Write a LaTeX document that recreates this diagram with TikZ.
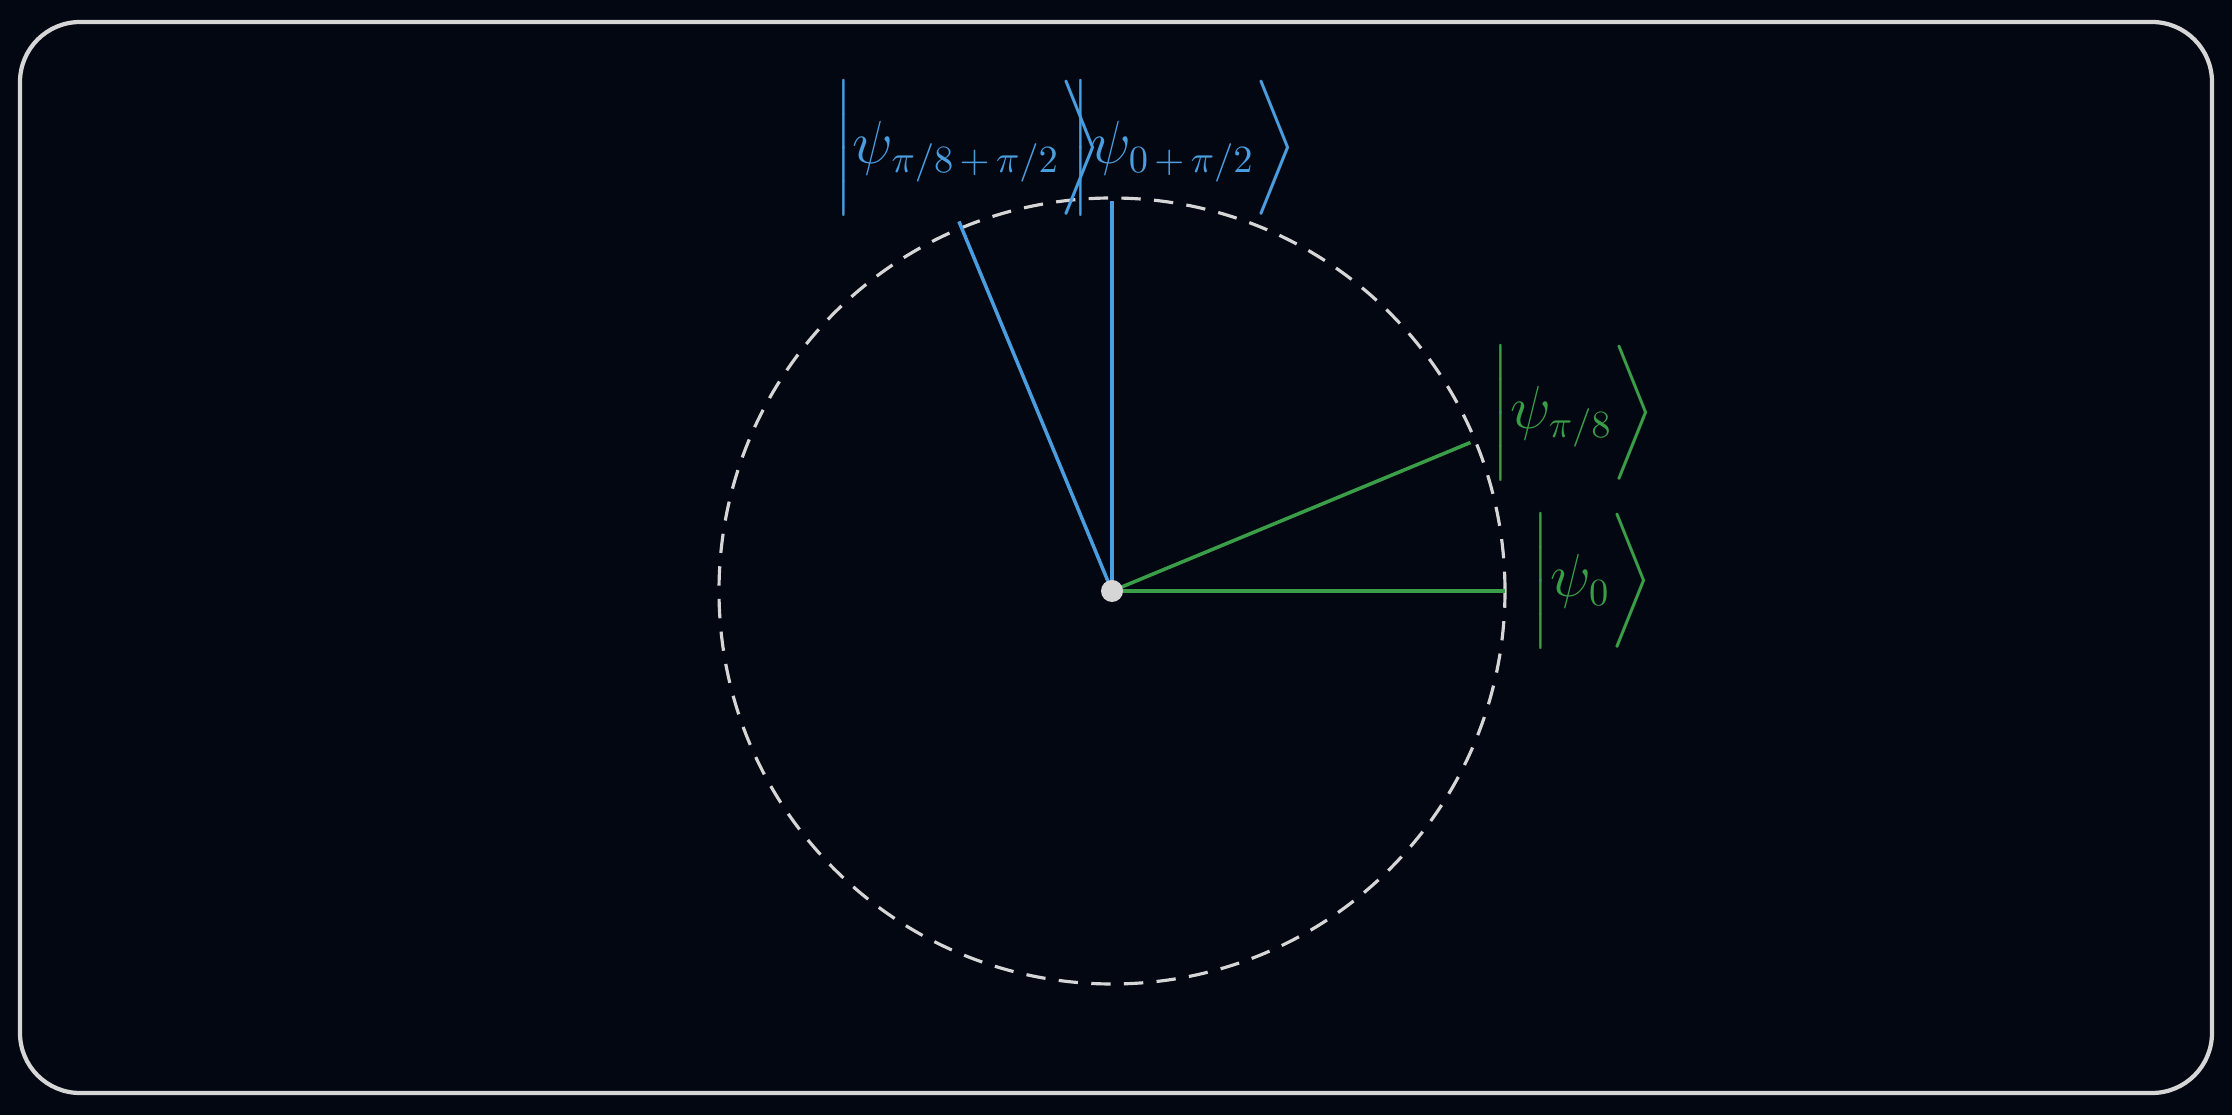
\documentclass[tikz,border=0pt]{standalone}
\usepackage{amsmath,amssymb}
\usepackage{tikz}
\usetikzlibrary{calc}
\definecolor{bgnavy}{RGB}{3,7,18}
\definecolor{chalk}{RGB}{214,214,214}
\definecolor{ketblue}{RGB}{74,158,224}
\definecolor{ketgreen}{RGB}{58,158,72}
\newcommand{\ketpsi}[1]{$\bigg|\psi_{#1}\bigg\rangle$}
\tikzset{
  ray/.style={line width=1pt},
  ketlabel/.style={font=\fontsize{16}{19}\selectfont, inner sep=0pt},
}

\begin{document}
\begin{tikzpicture}[x=0.01cm, y=0.01cm]
        % background and frame
        \fill[bgnavy] (0,0) rectangle (2232,1115);
        \useasboundingbox (0,0) rectangle (2232,1115);
        \draw[chalk, line width=1.2pt, rounded corners=0.6cm] (20,22) rectangle (2212,1093);
        % circle
        \coordinate (O) at (1112,524);
        \draw[chalk, line width=0.9pt, dash pattern=on 5.5pt off 3.8pt] (O) circle (393);
        % ends of the rays
        \coordinate (e0) at ($(O)+(0:393)$);
        \coordinate (e1) at ($(O)+(22.5:388)$);
        \coordinate (e2) at ($(O)+(90:390)$);
        \coordinate (e3) at ($(O)+(112.5:400)$);
        % rays
        \draw[ketgreen, ray] (O) -- (e0);
        \draw[ketgreen, ray] (O) -- (e1);
        \draw[ketblue, ray] (O) -- (e2);
        \draw[ketblue, ray] (O) -- (e3);
        \node[circle, fill=chalk, minimum size=0.22cm, inner sep=0pt] (dot) at (O) {};
        % labels
        \node[ketlabel, ketblue] (k3) at (968,967) {\ketpsi{\pi/8\,+\,\pi/2}};
        \node[ketlabel, ketblue] (k2) at (1184,967) {\ketpsi{0\,+\,\pi/2}};
        \node[ketlabel, ketgreen] (k1) at (1573,702) {\ketpsi{\pi/8}};
        \node[ketlabel, ketgreen] (k0) at (1592,534) {\ketpsi{0}};
\end{tikzpicture}
\end{document}
